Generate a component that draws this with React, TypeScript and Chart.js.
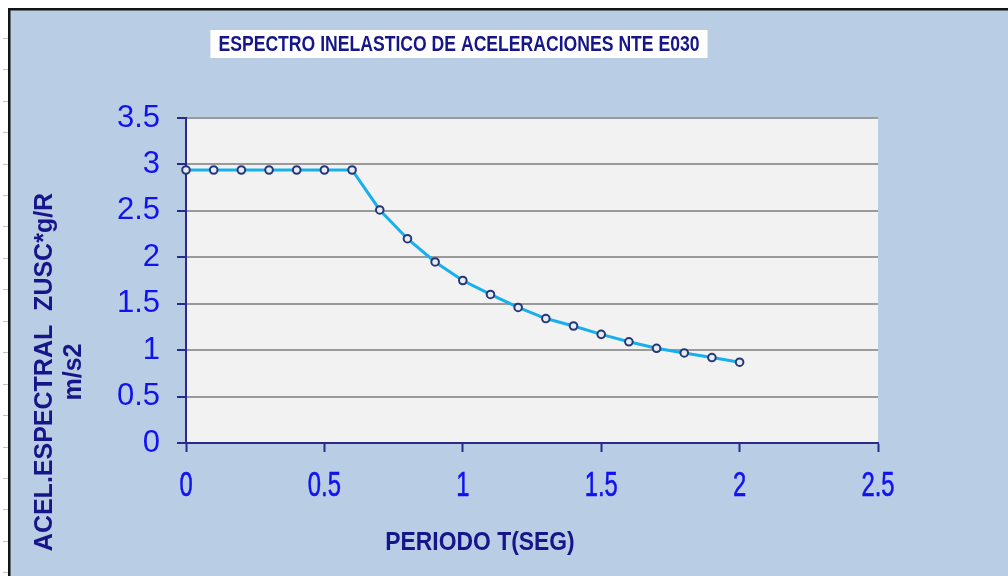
import { useEffect, useRef } from "react";
import { Chart, registerables } from "chart.js";

Chart.register(...registerables);

// ---- data ----
const periods = [0, 0.1, 0.2, 0.3, 0.4, 0.5, 0.6, 0.7, 0.8, 0.9, 1.0, 1.1, 1.2, 1.3, 1.4, 1.5, 1.6, 1.7, 1.8, 1.9, 2.0];
const accel = [2.94, 2.94, 2.94, 2.94, 2.94, 2.94, 2.94, 2.51, 2.2, 1.95, 1.75, 1.6, 1.46, 1.34, 1.26, 1.17, 1.09, 1.02, 0.97, 0.92, 0.87];
const xTickLabels = ["0", "0.5", "1", "1.5", "2", "2.5"];
const yTickLabels = ["0", "0.5", "1", "1.5", "2", "2.5", "3", "3.5"];
const chartTitle = "ESPECTRO INELASTICO DE ACELERACIONES NTE E030";
const yTitleLines = ["ACEL.ESPECTRAL  ZUSC*g/R", "m/s2"];
const xTitle = "PERIODO T(SEG)";

const FONT = "'Liberation Sans', Arial, Helvetica, sans-serif";
const NAVY = "#16168a";
const BLUE = "#1212f0";
const AXIS = "#2a2a8e";

const framePlugin = {
  id: "frame",
  beforeDraw(chart: any) {
    const { ctx, width, height } = chart;
    ctx.save();
    ctx.fillStyle = "#ffffff";
    ctx.fillRect(0, 0, width, height);
    ctx.fillStyle = "#b9cde5";
    ctx.fillRect(10, 10, width - 10, height - 10);
    ctx.fillStyle = "#141414";
    ctx.fillRect(8, 8, width - 8, 2.5);
    ctx.fillRect(8, 8, 2.5, height - 8);
    ctx.strokeStyle = "#c4c4c4";
    ctx.lineWidth = 1;
    for (let y = 37.7; y < height; y += 31.45) {
      const yy = Math.round(y) + 0.5;
      ctx.beginPath();
      ctx.moveTo(3, yy);
      ctx.lineTo(8, yy);
      ctx.stroke();
    }
    const a = chart.chartArea;
    ctx.fillStyle = "#f2f2f2";
    ctx.fillRect(a.left, a.top, a.right - a.left, a.bottom - a.top);
    ctx.restore();
  },
};

const textPlugin = {
  id: "texts",
  afterDraw(chart: any) {
    const { ctx } = chart;
    const a = chart.chartArea;
    ctx.save();

    // title box
    ctx.font = `bold 22px ${FONT}`;
    const tsx = 0.8;
    const tw = ctx.measureText(chartTitle).width * tsx;
    const tcx = 459;
    const tcy = 44;
    ctx.fillStyle = "#ffffff";
    ctx.fillRect(tcx - tw / 2 - 8, tcy - 14, tw + 16, 28);
    ctx.save();
    ctx.translate(tcx, tcy + 1);
    ctx.scale(tsx, 1);
    ctx.fillStyle = NAVY;
    ctx.textAlign = "center";
    ctx.textBaseline = "middle";
    ctx.fillText(chartTitle, 0, 0);
    ctx.restore();

    // x tick labels (condensed)
    const xs = chart.scales.x;
    ctx.font = `35px ${FONT}`;
    ctx.fillStyle = BLUE;
    ctx.strokeStyle = BLUE;
    ctx.lineWidth = 0.6;
    ctx.textAlign = "center";
    ctx.textBaseline = "middle";
    xs.ticks.forEach((t: any, i: number) => {
      const px = xs.getPixelForValue(t.value);
      ctx.save();
      ctx.translate(px, a.bottom + 43);
      ctx.scale(0.68, 1);
      const s = xTickLabels[i] ?? String(t.value);
      ctx.fillText(s, 0, 0);
      ctx.strokeText(s, 0, 0);
      ctx.restore();
    });

    // x title
    ctx.font = `bold 26px ${FONT}`;
    ctx.fillStyle = NAVY;
    ctx.save();
    ctx.translate(480, 543);
    ctx.scale(0.88, 1);
    ctx.fillText(xTitle, 0, 0);
    ctx.restore();

    // y title (rotated, two lines)
    ctx.font = `bold 25px ${FONT}`;
    ctx.fillStyle = NAVY;
    ctx.save();
    ctx.translate(45, 372);
    ctx.rotate(-Math.PI / 2);
    ctx.fillText(yTitleLines[0], 0, 0);
    ctx.fillText(yTitleLines[1], 0, 29);
    ctx.restore();

    ctx.restore();
  },
};

export default function App() {
  const ref = useRef<HTMLCanvasElement | null>(null);

  useEffect(() => {
    if (!ref.current) return;
    const points = periods.map((p, i) => ({ x: p, y: accel[i] }));
    const chart = new Chart(ref.current, {
      type: "line",
      data: {
        datasets: [
          {
            data: points,
            borderColor: "#18b0ec",
            borderWidth: 3,
            pointRadius: 3.8,
            pointBorderWidth: 2,
            pointBorderColor: "#243878",
            pointBackgroundColor: "#e9edf3",
            tension: 0,
            clip: false as any,
          },
        ],
      },
      options: {
        responsive: false,
        animation: false,
        events: [],
        layout: { padding: { left: 100, right: 130, top: 118, bottom: 0 } },
        plugins: {
          legend: { display: false },
          tooltip: { enabled: false },
          title: { display: false },
        },
        scales: {
          x: {
            type: "linear",
            min: 0,
            max: 2.5,
            ticks: { stepSize: 0.5, display: false },
            grid: {
              drawOnChartArea: false,
              drawTicks: true,
              tickLength: 9,
              tickColor: AXIS,
              tickWidth: 2,
            },
            border: { display: true, color: AXIS, width: 2 },
            afterFit: (s: any) => {
              s.height = 133;
            },
          },
          y: {
            type: "linear",
            min: 0,
            max: 3.5,
            ticks: {
              stepSize: 0.5,
              padding: 17,
              color: BLUE,
              font: { family: FONT, size: 31 },
              callback: (v: any, i: number) => yTickLabels[i] ?? String(v),
            },
            grid: {
              color: "#9a9a9a",
              lineWidth: 2,
              drawTicks: true,
              tickLength: 9,
              tickColor: AXIS,
              tickWidth: 2,
            },
            border: { display: true, color: AXIS, width: 2 },
            afterFit: (s: any) => {
              s.width = 86;
            },
          },
        },
      },
      plugins: [framePlugin, textPlugin],
    });
    return () => chart.destroy();
  }, []);

  return (
    <div style={{ position: "fixed", left: 0, top: 0, width: 1008, height: 576 }}>
      <canvas ref={ref} width={1008} height={576} style={{ display: "block" }} />
    </div>
  );
}
